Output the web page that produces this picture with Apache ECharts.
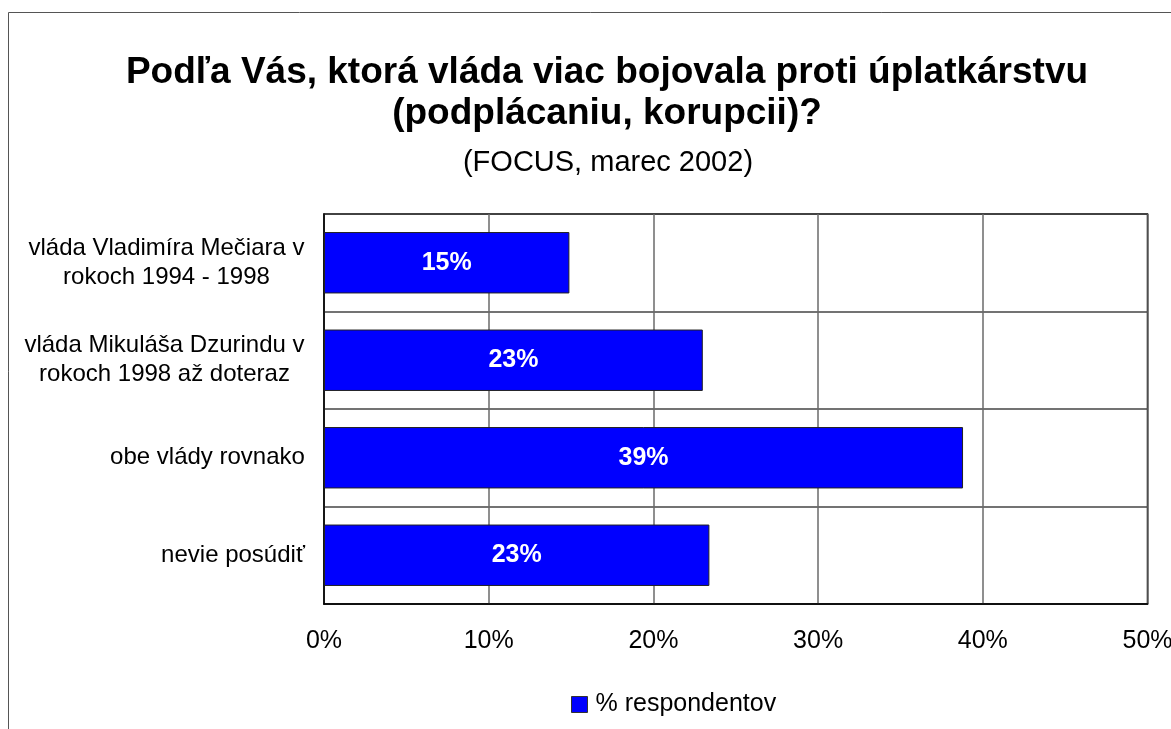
<!DOCTYPE html>
<html>
<head>
<meta charset="utf-8">
<script src="https://cdn.jsdelivr.net/npm/echarts@6/dist/echarts.min.js"></script>
<style>
  html, body { margin: 0; padding: 0; background: #fff; }
  #chart { width: 1171px; height: 729px; }
</style>
</head>
<body>
<div id="chart"></div>
<script>
// údaje z grafu
const categories = [
  'vláda Vladimíra Mečiara v\nrokoch 1994 - 1998',
  'vláda Mikuláša Dzurindu v\nrokoch 1998 až doteraz',
  'obe vlády rovnako',
  'nevie posúdiť'
];
const values = [14.9, 23.0, 38.8, 23.4];
const seriesName = '% respondentov';
const titleText = 'Podľa Vás, ktorá vláda viac bojovala proti úplatkárstvu\n(podplácaniu, korupcii)?';
const subtitleText = '(FOCUS, marec 2002)';

const FONT = '"Liberation Sans", Arial, sans-serif';

// riadky popisov kategórií sú centrované v rámci bloku, blok je zarovnaný doprava
const ctx = document.createElement('canvas').getContext('2d');
ctx.font = '24px "Liberation Sans"';
const rich = {};
categories.forEach((c, i) => {
  const w = Math.max(...c.split('\n').map(s => ctx.measureText(s).width));
  rich['c' + i] = {
    width: Math.ceil(w), align: 'center',
    fontSize: 24, lineHeight: 29, color: '#000', fontFamily: FONT
  };
});

const chart = echarts.init(document.getElementById('chart'));
chart.setOption({
  backgroundColor: '#fff',
  animation: false,
  graphic: [{
    type: 'rect',
    shape: { x: 8.5, y: 12.5, width: 1190, height: 740 },
    style: { fill: null, stroke: '#555', lineWidth: 1 },
    z: -1
  }],
  title: [
    {
      text: titleText,
      left: 602, top: 47, textAlign: 'center',
      textStyle: { fontFamily: FONT, fontSize: 37, fontWeight: 'bold', lineHeight: 41, color: '#000' }
    },
    {
      text: subtitleText,
      left: 603, top: 143, textAlign: 'center',
      textStyle: { fontFamily: FONT, fontSize: 29, fontWeight: 'normal', lineHeight: 29, color: '#000' }
    }
  ],
  legend: {
    left: 571, top: 692, padding: 0,
    itemWidth: 16, itemHeight: 16, itemGap: 8,
    icon: 'rect',
    itemStyle: { borderColor: '#333', borderWidth: 1 },
    textStyle: { fontFamily: FONT, fontSize: 25, color: '#000', padding: [0, 0, 0, 3] },
    data: [seriesName]
  },
  grid: {
    left: 324, right: 23.5, top: 214, bottom: 125,
    outerBoundsMode: 'none',
    show: true, borderColor: '#000', borderWidth: 1.5, backgroundColor: '#fff'
  },
  xAxis: {
    type: 'value', min: 0, max: 50, interval: 10,
    axisLine: { show: true, lineStyle: { color: '#000', width: 1.5 } },
    axisTick: { show: false },
    axisLabel: { formatter: '{value}%', fontFamily: FONT, fontSize: 25, color: '#000', margin: 25 },
    splitLine: { show: true, lineStyle: { color: '#6a6a6a', width: 1.5 } }
  },
  yAxis: {
    type: 'category', data: categories, inverse: true,
    axisLine: { show: true, lineStyle: { color: '#000', width: 1.5 } },
    axisTick: { show: false },
    axisLabel: {
      margin: 19, align: 'right',
      formatter: (v, i) => v.split('\n').map(s => '{c' + i + '|' + s + '}').join('\n'),
      rich: rich
    },
    splitLine: { show: true, lineStyle: { color: '#444', width: 1.5 } }
  },
  series: [{
    name: seriesName,
    type: 'bar',
    data: values,
    barCategoryGap: '37%',
    itemStyle: { color: '#0000ff', borderColor: '#222', borderWidth: 1 },
    label: {
      show: true, position: 'inside',
      formatter: p => Math.round(p.value) + '%',
      fontFamily: FONT, fontSize: 25, fontWeight: 'bold', color: '#fff'
    }
  }]
});
</script>
</body>
</html>
